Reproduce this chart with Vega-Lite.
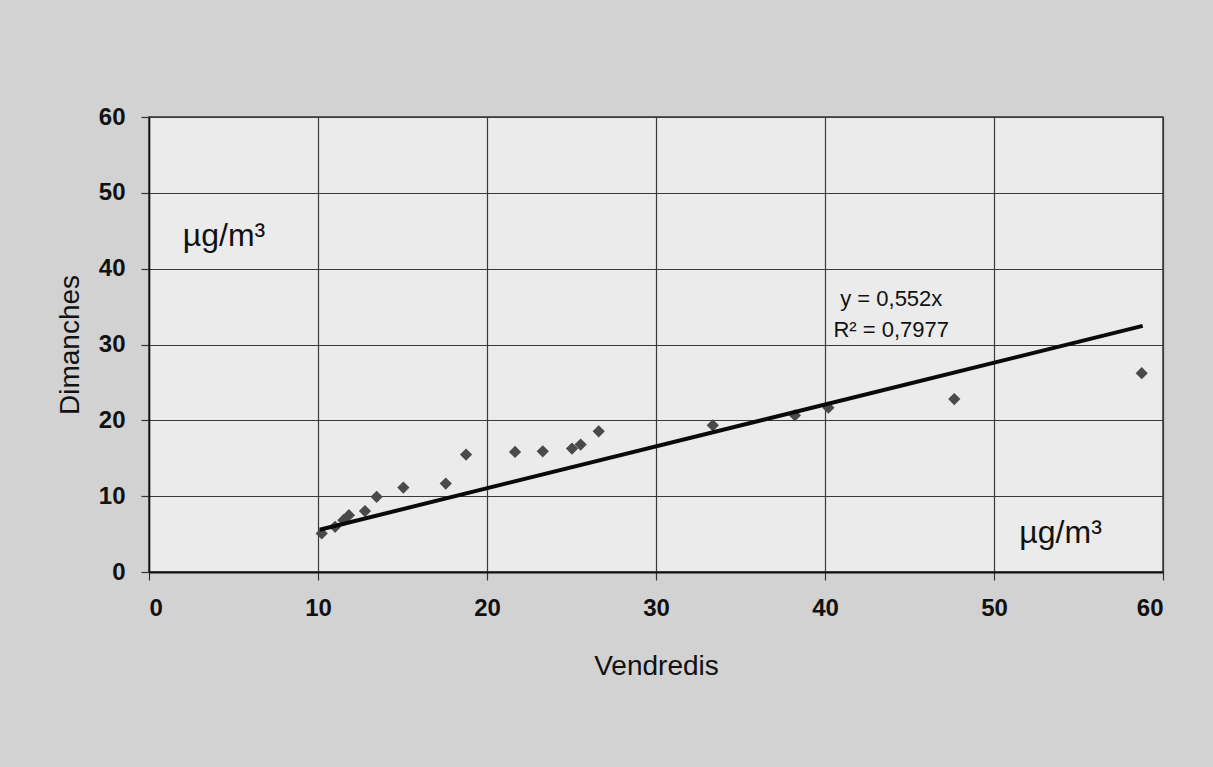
{
  "$schema": "https://vega.github.io/schema/vega-lite/v6.json",
  "width": 1014,
  "height": 455,
  "autosize": {"type": "none"},
  "padding": {"left": 149, "top": 117, "right": 50, "bottom": 195},
  "background": "#d2d2d2",
  "config": {
    "font": "Liberation Sans",
    "view": {"fill": "#ebebeb", "stroke": "#333333", "strokeWidth": 1.5}
  },
  "datasets": {
    "mesures": [
      {"vendredi": 10.22, "dimanche": 5.09},
      {"vendredi": 11.01, "dimanche": 5.96},
      {"vendredi": 11.5, "dimanche": 6.84},
      {"vendredi": 11.83, "dimanche": 7.5},
      {"vendredi": 12.78, "dimanche": 8.03},
      {"vendredi": 13.47, "dimanche": 9.91},
      {"vendredi": 15.05, "dimanche": 11.14},
      {"vendredi": 17.56, "dimanche": 11.67},
      {"vendredi": 18.76, "dimanche": 15.49},
      {"vendredi": 21.66, "dimanche": 15.83},
      {"vendredi": 23.3, "dimanche": 15.92},
      {"vendredi": 25.03, "dimanche": 16.28},
      {"vendredi": 25.54, "dimanche": 16.8},
      {"vendredi": 26.61, "dimanche": 18.55},
      {"vendredi": 33.36, "dimanche": 19.34},
      {"vendredi": 38.22, "dimanche": 20.66},
      {"vendredi": 40.2, "dimanche": 21.67},
      {"vendredi": 47.65, "dimanche": 22.8},
      {"vendredi": 58.74, "dimanche": 26.22}
    ],
    "tendance": [
      {"vendredi": 10.1, "dimanche": 5.58},
      {"vendredi": 58.8, "dimanche": 32.46}
    ],
    "equation": [
      {"vendredi": 40.9, "dimanche": 36.05, "texte": "y = 0,552x"},
      {"vendredi": 40.5, "dimanche": 31.97, "texte": "R² = 0,7977"}
    ],
    "unites": [
      {"vendredi": 2.0, "dimanche": 44.3, "texte": "µg/m³"},
      {"vendredi": 51.5, "dimanche": 5.1, "texte": "µg/m³"}
    ]
  },
  "encoding": {
    "x": {
      "field": "vendredi",
      "type": "quantitative",
      "scale": {"domain": [0, 60], "nice": false, "zero": false},
      "axis": {
        "title": "Vendredis",
        "values": [0, 10, 20, 30, 40, 50, 60],
        "grid": true,
        "gridColor": "#3a3a3a",
        "gridWidth": 1.2,
        "gridOpacity": 1,
        "domainColor": "#111111",
        "domainWidth": 2,
        "tickColor": "#333333",
        "tickSize": 8,
        "tickWidth": 1.2,
        "labelFont": "Liberation Sans",
        "labelFontWeight": "bold",
        "labelFontSize": 24,
        "labelColor": "#111111",
        "labelPadding": 16,
        "titleFont": "Liberation Sans",
        "titleFontSize": 28,
        "titleFontWeight": "normal",
        "titleColor": "#111111",
        "titlePadding": 32
      }
    },
    "y": {
      "field": "dimanche",
      "type": "quantitative",
      "scale": {"domain": [0, 60], "nice": false, "zero": false},
      "axis": {
        "title": "Dimanches",
        "values": [0, 10, 20, 30, 40, 50, 60],
        "grid": true,
        "gridColor": "#3a3a3a",
        "gridWidth": 1.2,
        "gridOpacity": 1,
        "domainColor": "#111111",
        "domainWidth": 1.5,
        "tickColor": "#333333",
        "tickSize": 8,
        "tickWidth": 1.2,
        "labelFont": "Liberation Sans",
        "labelFontWeight": "bold",
        "labelFontSize": 24,
        "labelColor": "#111111",
        "labelPadding": 16,
        "titleFont": "Liberation Sans",
        "titleFontSize": 28,
        "titleFontWeight": "normal",
        "titleColor": "#111111",
        "titlePadding": 14
      }
    }
  },
  "layer": [
    {
      "data": {"name": "mesures"},
      "mark": {"type": "point", "shape": "diamond", "filled": true, "color": "#4a4a4a", "opacity": 1, "size": 150}
    },
    {
      "data": {"name": "tendance"},
      "mark": {"type": "line", "color": "#0a0a0a", "strokeWidth": 4}
    },
    {
      "data": {"name": "equation"},
      "mark": {"type": "text", "align": "left", "baseline": "middle", "fontSize": 22, "color": "#111111", "font": "Liberation Sans"},
      "encoding": {"text": {"field": "texte"}}
    },
    {
      "data": {"name": "unites"},
      "mark": {"type": "text", "align": "left", "baseline": "middle", "fontSize": 32, "color": "#111111", "font": "Liberation Sans"},
      "encoding": {"text": {"field": "texte"}}
    }
  ]
}
